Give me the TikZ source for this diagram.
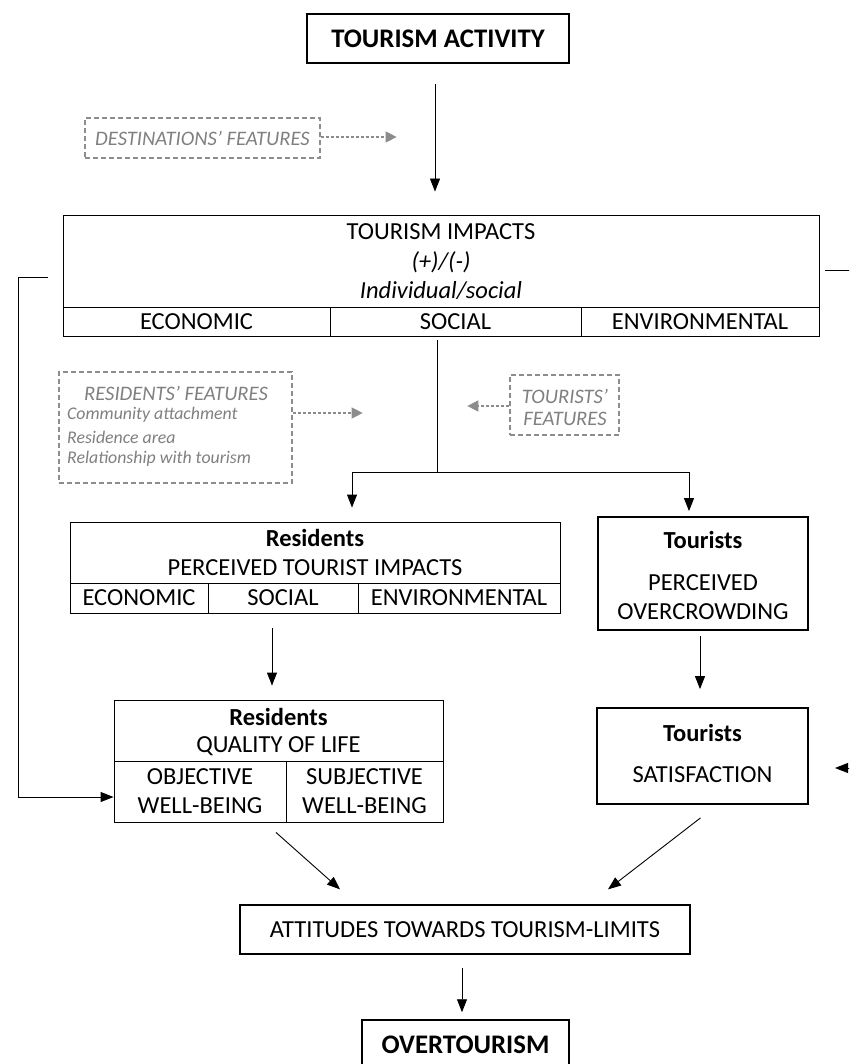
\documentclass[tikz,border=0pt]{standalone}
\usepackage{fontspec}
\setmainfont{Carlito}
\usetikzlibrary{arrows.meta}
\definecolor{featgray}{RGB}{128,128,128}
\definecolor{dashgray}{RGB}{140,140,140}
\begin{document}
\begin{tikzpicture}[x=1pt,y=-1pt,
  box/.style={draw, line width=0.9pt, inner sep=0pt},
  thickbox/.style={draw, line width=1.8pt, inner sep=0pt},
  txt/.style={inner sep=0pt, font=\fontsize{24.5}{29}\selectfont},
  btxt/.style={inner sep=0pt, font=\fontsize{24.5}{29}\selectfont\bfseries},
  ttxt/.style={inner sep=0pt, font=\fontsize{26.8}{31}\selectfont\bfseries},
  itxt/.style={inner sep=0pt, font=\fontsize{24.5}{29}\selectfont\itshape},
  featbox/.style={draw=dashgray, line width=1.3pt, dash pattern=on 5pt off 3pt, inner sep=0pt},
  feat/.style={inner sep=0pt, text=featgray, font=\fontsize{20.6}{24}\selectfont\itshape},
  featsm/.style={inner sep=0pt, text=featgray, font=\fontsize{17.8}{21}\selectfont\itshape},
  arr/.style={line width=0.9pt, -{Triangle[length=13pt,width=10pt]}},
  darr/.style={draw=dashgray, line width=1.3pt, dash pattern=on 3pt off 2pt, -{Triangle[length=11pt,width=11pt]}}
]
\useasboundingbox (0,0) rectangle (849,1064);
\clip (0,0) rectangle (849,1064);
\fill[white] (0,0) rectangle (849,1064);

% TOURISM ACTIVITY
\node[box, line width=1.5pt, minimum width=262pt, minimum height=49pt] (ta) at (438,38.5) {};
\node[ttxt] (tatxt) at (ta) {TOURISM ACTIVITY};

% Destinations' features
\node[featbox, minimum width=235pt, minimum height=40pt] (df) at (202.5,138) {};
\node[feat] (dftxt) at (df) {DESTINATIONS’ FEATURES};
\draw[darr] ([yshift=1pt]df.east) -- ([xshift=76pt,yshift=1pt]df.east);

% TOURISM IMPACTS
\node[box, minimum width=756pt, minimum height=92pt] (ti) at (441,261) {};
\node[txt] (til1) at (441,232) {TOURISM IMPACTS};
\node[itxt] (til2) at (441,262) {(+)/(-)};
\node[itxt] (til3) at (441,291) {Individual/social};
\node[box, minimum width=267pt, minimum height=29pt] (tieco) at (196.5,321.5) {};
\node[box, minimum width=251pt, minimum height=29pt] (tisoc) at (455.5,321.5) {};
\node[box, minimum width=238pt, minimum height=29pt] (tienv) at (700,321.5) {};
\node[txt] at (tieco) {ECONOMIC};
\node[txt] at (tisoc) {SOCIAL};
\node[txt] at (tienv) {ENVIRONMENTAL};

\draw[arr] ([xshift=-3pt,yshift=-20pt]ta.south) -- ([xshift=-6pt,yshift=23pt]ti.north);

% Residents' features
\node[featbox, minimum width=233pt, minimum height=111pt] (rf) at (175.5,427.5) {};
\node[feat] (rft) at (176,393) {RESIDENTS’ FEATURES};
\node[featsm, anchor=west] (rf1) at (67,415) {Community attachment};
\node[featsm, anchor=west] (rf2) at (67,437) {Residence area};
\node[featsm, anchor=west] (rf3) at (67,459) {Relationship with tourism};
\draw[darr] ([yshift=14.5pt]rf.east) -- ([xshift=70pt,yshift=14.5pt]rf.east);

% Tourists' features
\node[featbox, minimum width=109pt, minimum height=60pt] (tf) at (564.5,405) {};
\node[feat] (tf1) at (565,396) {TOURISTS’};
\node[feat] (tf2) at (565,419) {FEATURES};
\draw[darr] ([yshift=-1pt]tf.west) -- ([xshift=-42pt,yshift=-1pt]tf.west);

% Residents perceived impacts
\node[box, minimum width=490pt, minimum height=61pt] (rp) at (315,552.5) {};
\node[btxt] (rpl1) at (315,538) {Residents};
\node[txt] (rpl2) at (315,568) {PERCEIVED TOURIST IMPACTS};
\node[box, minimum width=138pt, minimum height=30pt] (rpeco) at (139,598) {};
\node[box, minimum width=150pt, minimum height=30pt] (rpsoc) at (283,598) {};
\node[box, minimum width=202pt, minimum height=30pt] (rpenv) at (459,598) {};
\node[txt] at (rpeco) {ECONOMIC};
\node[txt] at (rpsoc) {SOCIAL};
\node[txt] at (rpenv) {ENVIRONMENTAL};

% Tourists perceived overcrowding
\node[thickbox, minimum width=210pt, minimum height=113pt] (tp) at (703,573.5) {};
\node[btxt] (tpl1) at (703,540) {Tourists};
\node[txt] (tpl2) at (703,583) {PERCEIVED};
\node[txt] (tpl3) at (703,612) {OVERCROWDING};

% split from SOCIAL
\coordinate (split) at (437,472);
\coordinate (socbot) at (437,340);
\draw[line width=0.9pt] (socbot) -- (split);
\draw[arr] (split) -| ([xshift=37pt,yshift=14pt]rp.north);
\draw[arr] (split) -| ([xshift=-14pt,yshift=5pt]tp.north);

% Residents quality of life
\node[box, minimum width=329pt, minimum height=61pt] (qol) at (278.5,730.5) {};
\node[btxt] (qoll1) at (278.5,717) {Residents};
\node[txt] (qoll2) at (278.5,746) {QUALITY OF LIFE};
\node[box, minimum width=172pt, minimum height=61pt] (qolobj) at (200,791.5) {};
\node[box, minimum width=157pt, minimum height=61pt] (qolsub) at (364.5,791.5) {};
\node[txt] at (200,777) {OBJECTIVE};
\node[txt] at (200,806) {WELL-BEING};
\node[txt] at (364.5,777) {SUBJECTIVE};
\node[txt] at (364.5,806) {WELL-BEING};

\coordinate (a1) at ([xshift=-11pt,yshift=-15pt]rpsoc.south);
\draw[arr, shorten >=14pt] (a1) -- (a1 |- qol.north);

% Tourists satisfaction
\node[thickbox, minimum width=211pt, minimum height=96pt] (ts) at (702.5,756) {};
\node[btxt] (tsl1) at (702.5,733) {Tourists};
\node[txt] (tsl2) at (702.5,775) {SATISFACTION};
\coordinate (a2) at ([xshift=-3pt,yshift=-5pt]tp.south);
\draw[arr, shorten >=18pt] (a2) -- (a2 |- ts.north);

% feedback lines
\coordinate (fbL) at (48,277);
\draw[arr] (fbL) -- ++(-30,0) |- ([yshift=-5.5pt]qolobj.west);
\coordinate (fbR) at (825,270);
\draw[line width=0.9pt] (fbR) -- ++(40,0);
\coordinate (fbR2) at (835,768);
\draw[arr] ([xshift=30pt]fbR2) -- (fbR2);

% Attitudes
\node[box, line width=1.3pt, minimum width=450pt, minimum height=49pt] (att) at (465,929.5) {};
\node[txt] (atttxt) at (att) {ATTITUDES TOWARDS TOURISM-LIMITS};
\draw[arr] ([xshift=76pt,yshift=-10pt]qolobj.south) -- ([xshift=-125pt,yshift=15pt]att.north);
\draw[arr] ([xshift=-2pt,yshift=-13pt]ts.south) -- ([xshift=143pt,yshift=15pt]att.north);

% Overtourism
\node[box, line width=1.5pt, minimum width=207pt, minimum height=55pt] (ot) at (465.5,1047.5) {};
\node[ttxt] (ottxt) at (465.5,1045) {OVERTOURISM};
\draw[arr] ([xshift=-3pt,yshift=-13pt]att.south) -- ([xshift=-3.5pt,yshift=7pt]ot.north);
\end{tikzpicture}
\end{document}
